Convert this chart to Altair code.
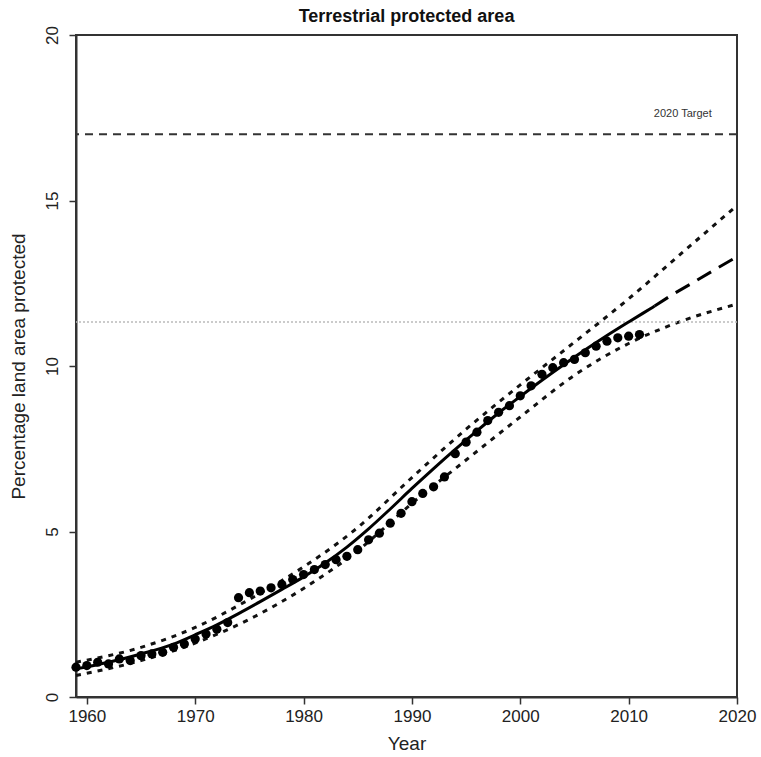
import altair as alt
import pandas as pd

# Observed data points (year, % land area protected)
obs_years = list(range(1959, 2012))
obs_values = [0.9, 0.95, 1.05, 1.0, 1.15, 1.1, 1.25, 1.3, 1.35, 1.5,
              1.6, 1.75, 1.9, 2.05, 2.25, 3.0, 3.15, 3.2, 3.3, 3.4,
              3.55, 3.7, 3.85, 4.0, 4.15, 4.25, 4.45, 4.75, 4.95, 5.25,
              5.55, 5.9, 6.15, 6.35, 6.65, 7.35, 7.7, 8.0, 8.35, 8.6,
              8.8, 9.1, 9.4, 9.75, 9.95, 10.1, 10.2, 10.4, 10.6, 10.75,
              10.85, 10.9, 10.95]

# Fitted curve (solid) over the observed period
fit_years = [1959, 1962, 1965, 1968, 1970, 1972, 1974, 1976, 1978, 1980,
             1982, 1984, 1986, 1988, 1990, 1992, 1994, 1996, 1998, 2000,
             2002, 2004, 2006, 2008, 2010, 2012, 2012.4]
fit_values = [0.85, 1.05, 1.3, 1.6, 1.88, 2.18, 2.52, 2.88, 3.25, 3.63,
              4.05, 4.53, 5.08, 5.68, 6.3, 6.9, 7.48, 8.04, 8.58, 9.08,
              9.57, 10.04, 10.49, 10.92, 11.33, 11.73, 11.81]

# Extrapolation (long dashed)
ext_years = [2012.4, 2014, 2016, 2018, 2020]
ext_values = [11.81, 12.15, 12.53, 12.92, 13.3]

# Confidence bounds (short dashed)
ci_years = [1959, 1965, 1970, 1975, 1980, 1985, 1990, 1995, 2000, 2005, 2010, 2015, 2020]
upper_values = [1.05, 1.5, 2.1, 2.95, 3.93, 5.12, 6.63, 8.09, 9.43, 10.72, 12.03, 13.44, 14.85]
lower_values = [0.65, 1.1, 1.63, 2.35, 3.28, 4.42, 5.85, 7.16, 8.46, 9.72, 10.68, 11.37, 11.87]

target_value = [17]
current_value = [11.33]
target_label = ["2020 Target"]
label_pos_year = [2015.0]
label_pos_value = [17.6]

x_ticks = [1960, 1970, 1980, 1990, 2000, 2010, 2020]
y_ticks = [0, 5, 10, 15, 20]

FONT = "Liberation Sans"

xs = alt.Scale(domain=[1959, 2020], nice=False, zero=False)
ys = alt.Scale(domain=[0, 20], nice=False, zero=True)

x_axis = alt.Axis(values=x_ticks, format="d", title="Year", grid=False,
                  tickSize=7, tickColor="#333", tickWidth=1.5,
                  domainColor="#333", domainWidth=2,
                  labelFontSize=17, labelColor="#222", labelFont=FONT,
                  labelPadding=4, labelFlush=False,
                  titleFontSize=19, titleFontWeight="normal", titleFont=FONT,
                  titleColor="#222", titlePadding=10)
y_axis = alt.Axis(values=y_ticks, title="Percentage land area protected", grid=False,
                  tickSize=7, tickColor="#333", tickWidth=1.5,
                  domainColor="#333", domainWidth=2,
                  labelFontSize=17, labelColor="#222", labelFont=FONT,
                  labelAngle=270, labelAlign="center", labelBaseline="bottom",
                  labelPadding=8, labelFlush=False,
                  titleFontSize=19, titleFontWeight="normal", titleFont=FONT,
                  titleColor="#222", titleX=-58, titleY=331,
                  titleBaseline="middle", titleAlign="center")

obs_df = pd.DataFrame({"year": obs_years, "value": obs_values})
fit_df = pd.DataFrame({"year": fit_years, "value": fit_values})
ext_df = pd.DataFrame({"year": ext_years, "value": ext_values})
ci_df = pd.DataFrame({"year": ci_years, "upper": upper_values, "lower": lower_values})
tgt_df = pd.DataFrame({"value": target_value})
cur_df = pd.DataFrame({"value": current_value})
lab_df = pd.DataFrame({"year": label_pos_year, "value": label_pos_value, "label": target_label})

base_x = alt.X("year:Q", scale=xs, axis=x_axis)

current = alt.Chart(cur_df).mark_rule(color="#bbbbbb", strokeWidth=1.5, strokeDash=[2, 2]).encode(
    y=alt.Y("value:Q", scale=ys))
target = alt.Chart(tgt_df).mark_rule(color="#333333", strokeWidth=2, strokeDash=[8, 6]).encode(
    y=alt.Y("value:Q", scale=ys))
label = alt.Chart(lab_df).mark_text(fontSize=11, font=FONT, color="#333", baseline="middle").encode(
    x=alt.X("year:Q", scale=xs), y=alt.Y("value:Q", scale=ys), text="label:N")

upper = alt.Chart(ci_df).mark_line(color="#111", strokeWidth=3, strokeDash=[5, 6],
                                   interpolate="monotone").encode(
    x=base_x, y=alt.Y("upper:Q", scale=ys, axis=y_axis))
lower = alt.Chart(ci_df).mark_line(color="#111", strokeWidth=3, strokeDash=[5, 6],
                                   interpolate="monotone").encode(
    x=alt.X("year:Q", scale=xs), y=alt.Y("lower:Q", scale=ys))
fit = alt.Chart(fit_df).mark_line(color="#000", strokeWidth=3, interpolate="monotone").encode(
    x=alt.X("year:Q", scale=xs), y=alt.Y("value:Q", scale=ys))
ext = alt.Chart(ext_df).mark_line(color="#000", strokeWidth=3, strokeDash=[16, 9]).encode(
    x=alt.X("year:Q", scale=xs), y=alt.Y("value:Q", scale=ys))
points = alt.Chart(obs_df).mark_circle(color="#000", opacity=1, size=85).encode(
    x=alt.X("year:Q", scale=xs), y=alt.Y("value:Q", scale=ys))

chart = alt.layer(upper, lower, current, target, label, fit, ext, points).properties(
    width=661, height=662,
    autosize=alt.AutoSizeParams(type="none"),
    padding={"left": 76, "top": 35, "right": 24, "bottom": 60},
    background="white",
    title=alt.TitleParams("Terrestrial protected area", fontSize=18, fontWeight="bold",
                          font=FONT, color="#111", anchor="middle", frame="group", offset=0),
).configure_view(stroke="#333", strokeWidth=2)

chart.save("out.html", embed_options={"renderer": "svg", "actions": False})
